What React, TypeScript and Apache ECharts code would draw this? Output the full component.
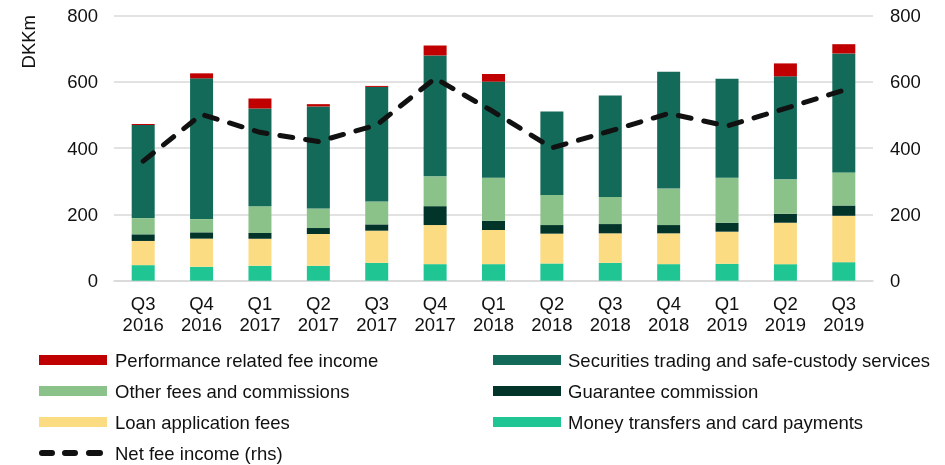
import React, { useEffect, useRef } from "react";
import * as echarts from "echarts";

const categories = [
  "Q3\n2016", "Q4\n2016", "Q1\n2017", "Q2\n2017", "Q3\n2017", "Q4\n2017",
  "Q1\n2018", "Q2\n2018", "Q3\n2018", "Q4\n2018", "Q1\n2019", "Q2\n2019", "Q3\n2019",
];

const moneyTransfers = [47, 42, 45, 45, 54, 50, 50, 52, 54, 50, 51, 50, 56];
const loanFees = [73, 85, 82, 96, 97, 118, 103, 90, 89, 93, 97, 125, 140];
const guarantee = [20, 19, 17, 18, 19, 57, 28, 26, 28, 25, 27, 27, 31];
const otherFees = [49, 40, 81, 59, 69, 90, 130, 91, 82, 110, 136, 104, 100];
const securities = [281, 425, 295, 308, 346, 365, 290, 252, 306, 353, 299, 311, 359];
const performance = [3, 15, 30, 7, 3, 30, 23, 0, 0, 0, 0, 39, 28];
const netFeeIncome = [361, 502, 448, 420, 470, 611, 510, 401, 452, 505, 467, 520, 575];

const yTicks = [0, 200, 400, 600, 800];

const FONT = "Liberation Sans, Arial, sans-serif";
const FS = 18.5;

const DASH_ICON =
  "path://M0,0 M68,10 " +
  "M3,2 H13 A3,3 0 0 1 13,8 H3 A3,3 0 0 1 3,2 Z " +
  "M26,2 H36 A3,3 0 0 1 36,8 H26 A3,3 0 0 1 26,2 Z " +
  "M50,2 H61 A3,3 0 0 1 61,8 H50 A3,3 0 0 1 50,2 Z";

export default function App() {
  const ref = useRef<HTMLDivElement>(null);

  useEffect(() => {
    if (!ref.current) return;
    const chart = echarts.init(ref.current, undefined, { renderer: "svg" });

    const barSeries = (name: string, data: number[], color: string) => ({
      name,
      type: "bar",
      stack: "total",
      data,
      barWidth: 23,
      itemStyle: { color },
      emphasis: { disabled: true },
    });

    const yLabel = { fontFamily: FONT, fontSize: FS, color: "#111", margin: 16 };

    const yAxisBase = {
      type: "value",
      min: yTicks[0],
      max: yTicks[yTicks.length - 1],
      interval: 200,
      axisLine: { show: false },
      axisTick: { show: false },
    };

    const legendText = {
      fontFamily: FONT,
      fontSize: FS,
      lineHeight: 19,
      color: "#111",
      padding: [0, 0, 0, 3],
    };

    const legendBase = {
      orient: "vertical",
      top: 350.5,
      height: 140,
      itemWidth: 68,
      itemHeight: 10,
      itemGap: 12,
      padding: 0,
      selectedMode: false,
      textStyle: legendText,
    };

    chart.setOption({
      animation: false,
      textStyle: { fontFamily: FONT },
      grid: { left: 114, right: 72, top: 15.7, bottom: 184.3, containLabel: false },
      xAxis: {
        type: "category",
        data: categories,
        axisTick: { show: false },
        axisLine: { lineStyle: { color: "#d9d9d9", width: 1.5 } },
        axisLabel: {
          fontFamily: FONT,
          fontSize: FS,
          lineHeight: 21,
          color: "#111",
          margin: 12,
          interval: 0,
        },
      },
      yAxis: [
        {
          ...yAxisBase,
          axisLabel: yLabel,
          splitLine: { lineStyle: { color: "#d9d9d9", width: 1.5 } },
        },
        {
          ...yAxisBase,
          position: "right",
          splitLine: { show: false },
          axisLabel: { ...yLabel, margin: 17 },
        },
      ],
      legend: [
        {
          ...legendBase,
          left: 39,
          data: [
            { name: "Performance related fee income", icon: "rect" },
            { name: "Other fees and commissions", icon: "rect" },
            { name: "Loan application fees", icon: "rect" },
            { name: "Net fee income (rhs)", icon: DASH_ICON },
          ],
        },
        {
          ...legendBase,
          left: 493,
          textStyle: { ...legendText, padding: [0, 0, 0, 2] },
          data: [
            { name: "Securities trading and safe-custody services", icon: "rect" },
            { name: "Guarantee commission", icon: "rect" },
            { name: "Money transfers and card payments", icon: "rect" },
          ],
        },
      ],
      graphic: [
        {
          type: "text",
          x: 28.3,
          y: 41.7,
          rotation: Math.PI / 2,
          style: {
            text: "DKKm",
            fontFamily: FONT,
            fontSize: FS,
            fill: "#111",
            align: "center",
            verticalAlign: "middle",
          },
        },
      ],
      series: [
        barSeries("Money transfers and card payments", moneyTransfers, "#20C594"),
        barSeries("Loan application fees", loanFees, "#FBDC82"),
        barSeries("Guarantee commission", guarantee, "#02342A"),
        barSeries("Other fees and commissions", otherFees, "#8AC289"),
        barSeries("Securities trading and safe-custody services", securities, "#146A58"),
        barSeries("Performance related fee income", performance, "#C00000"),
        {
          name: "Net fee income (rhs)",
          type: "line",
          yAxisIndex: 1,
          data: netFeeIncome,
          symbol: "none",
          itemStyle: { color: "#111" },
          lineStyle: { color: "#111", width: 5, type: [13, 13], cap: "round" },
          emphasis: { disabled: true },
          z: 5,
        },
      ],
    });

    return () => chart.dispose();
  }, []);

  return (
    <div
      ref={ref}
      style={{ position: "fixed", left: 0, top: 0, width: 945, height: 465 }}
    />
  );
}
